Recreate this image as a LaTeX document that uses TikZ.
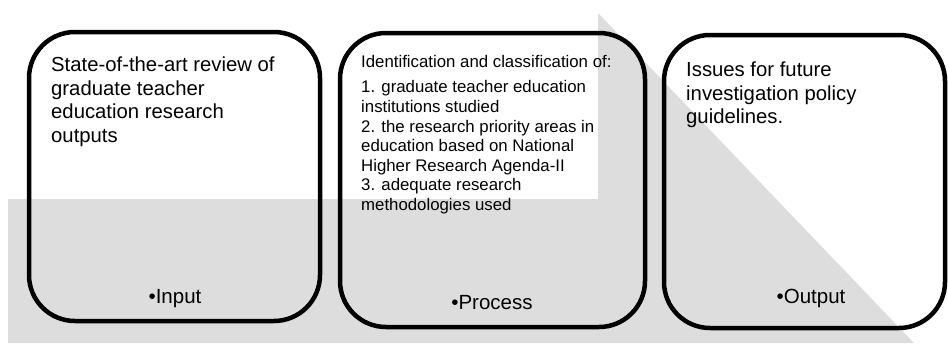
\documentclass[tikz,border=0pt]{standalone}
\usepackage{fontspec}
\setmainfont{Liberation Sans}
\usetikzlibrary{positioning}
\definecolor{bandgray}{RGB}{221,221,221}
\tikzset{
  stagebox/.style={draw=black, line width=4.5pt, rounded corners=46pt, outer sep=0pt, inner sep=0pt, anchor=north west},
  bigtext/.style={inner sep=0pt, anchor=north west, align=left, font=\fontsize{20.3}{23.4}\selectfont},
  smalltext/.style={inner sep=0pt, anchor=north west, align=left, font=\fontsize{16.8}{19.6}\selectfont},
  stagelabel/.style={inner sep=0pt, anchor=base, font=\fontsize{20.5}{22}\selectfont}
}
\begin{document}
\begin{tikzpicture}[x=1pt,y=-1pt]
\useasboundingbox (0,0) rectangle (948,343);
\fill[bandgray] (8,199) -- (598,199) -- (598,13) -- (914,343) -- (8,343) -- cycle; %ARROW
\begin{scope}[shift={(29,32)}] %INPUT
\node[stagebox, minimum width=291, minimum height=289] (input) at (0,0) {};
\node[bigtext] (inputtxt) at (22,25) {State-of-the-art review of\\graduate teacher\\education research\\outputs};
\node[stagelabel] (inputlbl) at (146,271) {•Input};
\end{scope}
\begin{scope}[shift={(340,33)}] %PROCESS
\node[stagebox, minimum width=305, minimum height=294] (process) at (0,0) {};
\node[smalltext] (processtxt) at (21,22) {Identification and classification of:\\[6pt]
1. graduate teacher education\\institutions studied\\
2. the research priority areas in\\education based on National\\Higher Research Agenda-II\\
3. adequate research\\methodologies used};
\node[stagelabel] (processlbl) at (152,276) {•Process};
\end{scope}
\begin{scope}[shift={(664,35)}] %OUTPUT
\node[stagebox, minimum width=281, minimum height=293] (output) at (0,0) {};
\node[bigtext] (outputtxt) at (22,27) {Issues for future\\investigation policy\\guidelines.};
\node[stagelabel] (outputlbl) at (147,268) {•Output};
\end{scope}
\end{tikzpicture}
\end{document}
